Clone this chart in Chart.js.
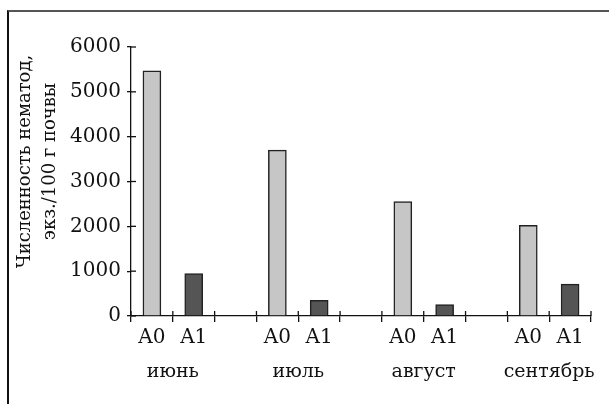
<!DOCTYPE html>
<html lang="ru">

<head>
    <meta charset="UTF-8">
    <script src="https://cdn.jsdelivr.net/npm/chart.js"></script>
    <title>Численность нематод</title>
    <style>
        body {
            margin: 0;
            background: #fff;
        }

        .wrap {
            position: relative;
            width: 609px;
            height: 404px;
        }

        .frame {
            position: absolute;
            left: 7px;
            top: 10px;
            right: 0;
            bottom: 0;
            border-top: 2px solid #555;
            border-left: 2px solid #111;
        }

        #nemChart {
            position: absolute;
            left: 0;
            top: 0;
        }
    </style>
</head>

<body>
    <div class="wrap">
        <div class="frame"></div>
        <canvas id="nemChart" width="609" height="404"></canvas>
    </div>
    <script>
        // данные
        const months = ['июнь', 'июль', 'август', 'сентябрь'];
        const layers = ['A0', 'A1'];
        const a0Values = [5470, 3700, 2550, 2020];
        const a1Values = [945, 350, 255, 710];
        const yTicks = [0, 1000, 2000, 3000, 4000, 5000, 6000];
        const yTitle = ['Численность нематод,', 'экз./100 г почвы'];

        const FONT = '"DejaVu Serif", serif';
        const lightGray = '#c6c6c6';
        const darkGray = '#555555';

        // категории: A0, A1, пусто между месяцами
        const labels = [];
        const values = [];
        const colors = [];
        months.forEach(function (m, i) {
            labels.push(layers[0]); values.push(a0Values[i]); colors.push(lightGray);
            labels.push(layers[1]); values.push(a1Values[i]); colors.push(darkGray);
            if (i < months.length - 1) {
                labels.push(''); values.push(null); colors.push('rgba(0,0,0,0)');
            }
        });

        // подписи месяцев, заголовок оси и верхняя часть засечек
        const extras = {
            id: 'extras',
            afterDraw(chart) {
                const ctx = chart.ctx;
                const x = chart.scales.x;
                const y = chart.scales.y;
                ctx.save();
                ctx.strokeStyle = '#111';
                ctx.lineWidth = 1.3;
                // засечки внутрь области
                const n = labels.length;
                for (let i = 0; i <= n; i++) {
                    let px;
                    if (i === 0) px = x.left;
                    else if (i === n) px = x.right;
                    else px = (x.getPixelForTick(i - 1) + x.getPixelForTick(i)) / 2;
                    ctx.beginPath();
                    ctx.moveTo(px, y.bottom);
                    ctx.lineTo(px, y.bottom - 5);
                    ctx.stroke();
                }
                yTicks.forEach(function (v) {
                    const py = y.getPixelForValue(v);
                    ctx.beginPath();
                    ctx.moveTo(x.left, py);
                    ctx.lineTo(x.left + 5, py);
                    ctx.stroke();
                });

                ctx.fillStyle = '#111';
                ctx.font = '19px ' + FONT;
                ctx.textAlign = 'center';
                ctx.textBaseline = 'alphabetic';
                months.forEach(function (m, i) {
                    const p0 = x.getPixelForValue(i * 3);
                    const p1 = x.getPixelForValue(i * 3 + 1);
                    ctx.fillText(m, (p0 + p1) / 2, y.bottom + 61);
                });

                ctx.font = '18px ' + FONT;
                const cy = (y.top + y.bottom) / 2 - 20;
                ctx.textBaseline = 'middle';
                [25, 50].forEach(function (cx, k) {
                    ctx.save();
                    ctx.translate(cx, cy);
                    ctx.rotate(-Math.PI / 2);
                    ctx.fillText(yTitle[k], 0, 0);
                    ctx.restore();
                });
                ctx.restore();
            }
        };

        new Chart(document.getElementById('nemChart').getContext('2d'), {
            type: 'bar',
            data: {
                labels: labels,
                datasets: [{
                    data: values,
                    backgroundColor: colors,
                    borderColor: '#222',
                    borderWidth: 1.5,
                    borderSkipped: 'bottom',
                    barThickness: 18
                }]
            },
            options: {
                responsive: false,
                animation: false,
                devicePixelRatio: 1,
                layout: {
                    padding: { left: 0, top: 47, right: 18, bottom: 8 }
                },
                plugins: {
                    legend: { display: false },
                    tooltip: { enabled: false }
                },
                scales: {
                    x: {
                        grid: {
                            offset: true,
                            drawOnChartArea: false,
                            tickLength: 6,
                            color: '#111',
                            lineWidth: 1.3
                        },
                        border: { color: '#111', width: 1.3 },
                        ticks: {
                            color: '#111',
                            padding: 4,
                            maxRotation: 0,
                            autoSkip: false,
                            font: { family: FONT, size: 20 }
                        },
                        afterFit(scale) { scale.height = 80; }
                    },
                    y: {
                        min: 0,
                        max: 6000,
                        afterBuildTicks(scale) {
                            scale.ticks = yTicks.map(v => ({ value: v }));
                        },
                        grid: {
                            drawOnChartArea: false,
                            tickLength: 4,
                            color: '#111',
                            lineWidth: 1.3
                        },
                        border: { color: '#111', width: 1.3 },
                        ticks: {
                            color: '#111',
                            padding: 6,
                            font: { family: FONT, size: 20 },
                            callback: function (v) { return String(v); }
                        },
                        afterFit(scale) { scale.width = 131; }
                    }
                }
            },
            plugins: [extras]
        });
    </script>
</body>

</html>
